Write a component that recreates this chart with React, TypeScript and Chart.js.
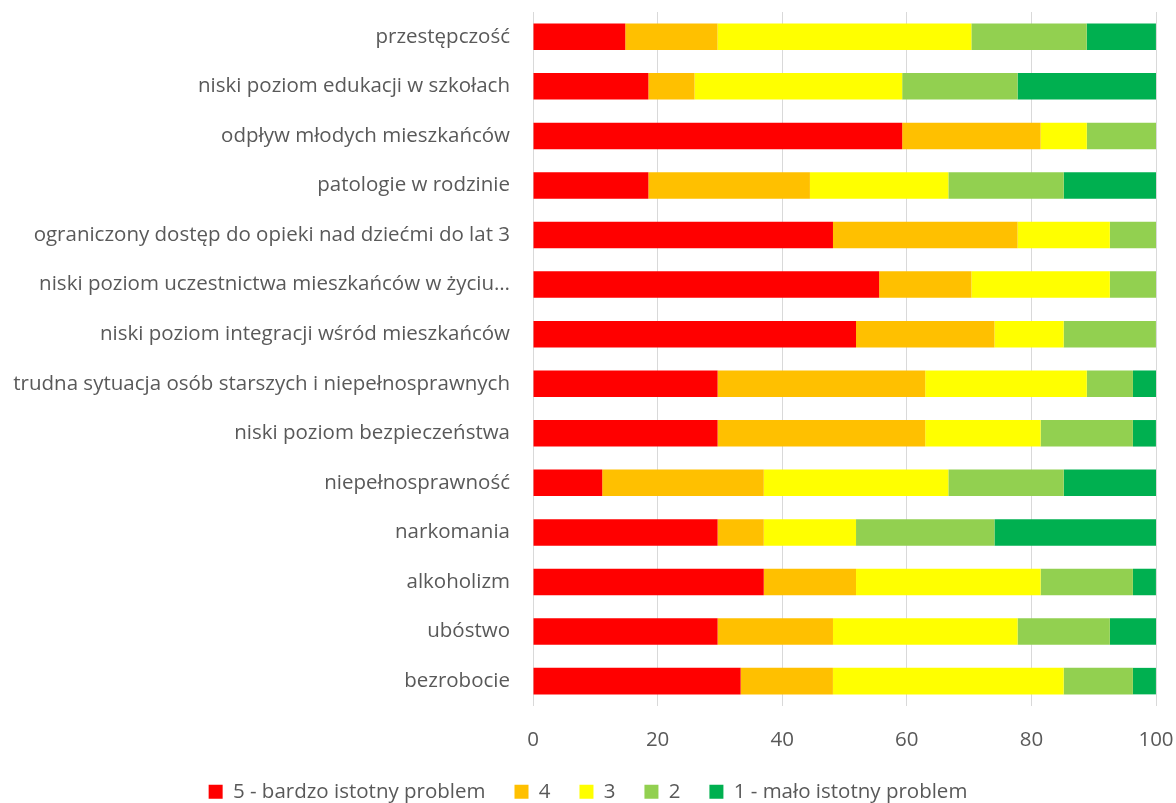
import React, { useEffect, useRef } from "react";
import { Chart, registerables } from "chart.js";

Chart.register(...registerables);

const categories = [
  "przestępczość",
  "niski poziom edukacji w szkołach",
  "odpływ młodych mieszkańców",
  "patologie w rodzinie",
  "ograniczony dostęp do opieki nad dziećmi do lat 3",
  "niski poziom uczestnictwa mieszkańców w życiu…",
  "niski poziom integracji wśród mieszkańców",
  "trudna sytuacja osób starszych i niepełnosprawnych",
  "niski poziom bezpieczeństwa",
  "niepełnosprawność",
  "narkomania",
  "alkoholizm",
  "ubóstwo",
  "bezrobocie",
];

const seriesNames = ["5 - bardzo istotny problem", "4", "3", "2", "1 - mało istotny problem"];

const s5 = [14.81, 18.52, 59.26, 18.52, 48.15, 55.56, 51.85, 29.63, 29.63, 11.11, 29.63, 37.04, 29.63, 33.33];
const s4 = [14.81, 7.41, 22.22, 25.93, 29.63, 14.81, 22.22, 33.33, 33.33, 25.93, 7.41, 14.81, 18.52, 14.81];
const s3 = [40.74, 33.33, 7.41, 22.22, 14.81, 22.22, 11.11, 25.93, 18.52, 29.63, 14.81, 29.63, 29.63, 37.04];
const s2 = [18.52, 18.52, 11.11, 18.52, 7.41, 7.41, 14.81, 7.41, 14.81, 18.52, 22.22, 14.81, 14.81, 11.11];
const s1 = [11.11, 22.22, 0, 14.81, 0, 0, 0, 3.7, 3.7, 14.81, 25.93, 3.7, 7.41, 3.7];

const colors = ["#FF0000", "#FFC000", "#FFFF00", "#92D050", "#00B050"];
const xTicks = [0, 20, 40, 60, 80, 100];

export default function App() {
  const ref = useRef<HTMLCanvasElement | null>(null);
  useEffect(() => {
    if (!ref.current) return;
    const data = [s5, s4, s3, s2, s1];
    const font = { family: "'Open Sans', sans-serif", size: 20.5 };
    const chart = new Chart(ref.current, {
      type: "bar",
      data: {
        labels: categories,
        datasets: seriesNames.map((n, i) => ({
          label: n,
          data: data[i],
          backgroundColor: colors[i],
          borderWidth: 0,
          barPercentage: 0.535,
          categoryPercentage: 1,
        })),
      },
      options: {
        indexAxis: "y",
        animation: false,
        responsive: true,
        maintainAspectRatio: false,
        layout: { padding: { top: 12, right: 0, bottom: -9, left: 0 } },
        scales: {
          x: {
            stacked: true,
            min: 0,
            max: 100,
            afterBuildTicks: (scale: any) => {
              scale.ticks = xTicks.map((v) => ({ value: v }));
            },
            afterFit: (scale: any) => {
              scale.paddingRight = 20;
              scale.paddingLeft = 0;
              scale.height = scale.height - 22;
            },
            grid: { color: "#D9D9D9", lineWidth: 1, drawTicks: false },
            border: { display: false },
            ticks: { color: "#595959", font, padding: 22 },
          },
          y: {
            stacked: true,
            grid: { display: false, drawTicks: false },
            border: { display: false },
            ticks: { color: "#595959", font, padding: 23 },
            afterFit: (scale: any) => {
              scale.width = 533;
              scale.paddingTop = 0;
              scale.paddingBottom = 0;
            },
          },
        },
        plugins: {
          legend: {
            position: "bottom",
            labels: {
              color: "#595959",
              font,
              boxWidth: 14,
              boxHeight: 14,
              padding: 29,
            },
          },
          tooltip: { enabled: false },
        },
      },
    });
    return () => chart.destroy();
  }, []);
  return (
    <div style={{ position: "absolute", left: 0, top: 0, width: 1176, height: 803 }}>
      <canvas ref={ref} />
    </div>
  );
}
